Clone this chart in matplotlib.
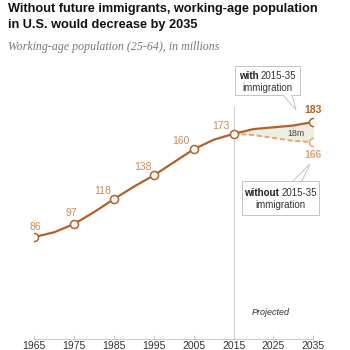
import numpy as np
import matplotlib
matplotlib.use("Agg")
from matplotlib import pyplot as plt
from matplotlib.patches import Polygon

# data (millions, working-age 25-64)
years = [1965, 1970, 1975, 1980, 1985, 1990, 1995, 2000, 2005, 2010, 2015, 2020, 2025, 2030, 2035]
with_imm = [86, 90, 97, 107, 118, 128.5, 138, 149, 160, 168, 173, 177, 178.5, 180, 183]
proj_years = [2015, 2020, 2025, 2030, 2035]
without_imm = [173, 172, 169.5, 167, 166]
marker_years = [1965, 1975, 1985, 1995, 2005, 2015, 2035]
marker_vals = [86, 97, 118, 138, 160, 173, 183]
xticks = [1965, 1975, 1985, 1995, 2005, 2015, 2025, 2035]

DARK = "#b1622b"
LIGHT = "#e5a36e"
LABEL = "#c98b5c"
W, H = 350, 350
PT = 0.72  # points per pixel at 100 dpi

plt.rcParams["font.family"] = ["Liberation Sans", "DejaVu Sans"]
fig = plt.figure(figsize=(3.5, 3.5), dpi=100)
ax = fig.add_axes([34.3 / W, 11 / H, 279 / W, 237.2 / H])
ax.set_xlim(1965, 2035)
ax.set_ylim(0, 200)

def px(x, y):
    return (x / W, 1 - y / H)

# projection shading and lines
with_proj = [with_imm[years.index(y)] for y in proj_years]
ax.fill_between(proj_years, without_imm, with_proj, color="#eeede2", lw=0, zorder=1)
ax.axvline(2015, ymin=0, ymax=195.5 / 200, color="#cfcfcf", lw=0.8, zorder=0)
ax.plot(years, with_imm, color=DARK, lw=1.6, zorder=3, solid_capstyle="round")
ax.plot(proj_years, without_imm, color=LIGHT, lw=1.4, ls=(0, (2.5, 1.5)), zorder=2)
ax.plot(marker_years, marker_vals, "o", ms=5.8, mfc="white", mec=DARK, mew=1.1, zorder=4)
ax.plot([2035], [without_imm[-1]], "o", ms=5.8, mfc="white", mec=LIGHT, mew=1.1, zorder=4)

# data labels (offsets in pixels)
offsets = {1965: (1, 10), 1975: (-3, 11), 1985: (-11, 8), 1995: (-11, 8), 2005: (-13, 8), 2015: (-4, 8)}
for yr, v in zip(marker_years[:-1], marker_vals[:-1]):
    dx, dy = offsets[yr]
    ha = "center" if yr < 2015 else "right"
    ax.annotate(str(v), (yr, v), xytext=(dx * PT, dy * PT), textcoords="offset points",
                ha=ha, va="center", fontsize=7.5, color=LABEL)
ax.annotate(str(marker_vals[-1]), (2035, marker_vals[-1]), xytext=(0, 12 * PT), textcoords="offset points",
            ha="center", va="center", fontsize=7.5, color=DARK, fontweight="bold")
ax.annotate(str(without_imm[-1]), (2035, without_imm[-1]), xytext=(0, -13 * PT), textcoords="offset points",
            ha="center", va="center", fontsize=7.5, color=LIGHT, fontweight="bold")
ax.text(2030.5, 173.5, "18m", fontsize=6.3, color="#444444", ha="center", va="center", zorder=5)

# callouts
def callout(box, tri):
    x0, y0, x1, y1 = box
    shadow = Polygon([px(x0 + 1, y0 + 1), px(x1 + 1, y0 + 1), px(x1 + 1, y1 + 1), px(x0 + 1, y1 + 1)],
                     closed=True, transform=fig.transFigure, fc="#ebebeb", ec="none", zorder=8)
    fig.patches.append(shadow)
    p = Polygon([px(*q) for q in tri], closed=True, transform=fig.transFigure,
                fc="white", ec="#c4c4c4", lw=0.7, zorder=9)
    fig.patches.append(p)
    r = Polygon([px(x0, y0), px(x1, y0), px(x1, y1), px(x0, y1)], closed=True,
                transform=fig.transFigure, fc="white", ec="#c4c4c4", lw=0.7, zorder=10)
    fig.patches.append(r)
    yy = tri[0][1]
    d = 1 if yy == y1 else -1
    cover = Polygon([px(tri[0][0] + 0.6, yy - d * 0.3), px(tri[1][0] - 0.6, yy - d * 0.3),
                     px(tri[1][0] - 0.6, yy + d), px(tri[0][0] + 0.6, yy + d)], closed=True,
                    transform=fig.transFigure, fc="white", ec="none", zorder=11)
    fig.patches.append(cover)

callout((235, 66, 300, 95), [(283, 95), (292, 95), (296, 110)])
callout((242, 181, 319, 215), [(293, 181), (302, 181), (310, 164)])

renderer = fig.canvas.get_renderer()

def callout_text(cx, y1, y2, bold, rest, size=7):
    tb = fig.text(0, 0, bold + " ", fontsize=size, fontweight="bold", color="#222222", va="center", zorder=12)
    tr = fig.text(0, 0, rest, fontsize=size, color="#333333", va="center", zorder=12)
    wb = tb.get_window_extent(renderer).width
    wr = tr.get_window_extent(renderer).width
    start = cx - (wb + wr) / 2
    tb.set_position(px(start, y1))
    tr.set_position(px(start + wb, y1))
    fig.text(*px(cx, y2), "immigration", fontsize=size, color="#333333", ha="center", va="center", zorder=12)

callout_text(267.5, 76, 88, "with", "2015-35")
callout_text(280.5, 193, 205, "without", "2015-35")

ax.text(2024.4, 22, "Projected", fontsize=6.5, style="italic", color="#333333", ha="center", va="center")

# axes styling
for s in ["top", "right", "left"]:
    ax.spines[s].set_visible(False)
ax.spines["bottom"].set_color("#cccccc")
ax.spines["bottom"].set_linewidth(0.8)
ax.set_yticks([])
ax.set_xticks(xticks)
ax.set_xticklabels([str(x) for x in xticks], fontsize=7.5, color="#333333")
ax.tick_params(axis="x", direction="in", length=3, color="#cccccc", pad=1.5)

# titles
fig.text(8 / W, 1 - 3 / H, "Without future immigrants, working-age population\nin U.S. would decrease by 2035",
         fontsize=9.2, fontweight="bold", color="#111111", ha="left", va="top", linespacing=1.45)
fig.text(8 / W, 1 - 47 / H, "Working-age population (25-64), in millions", fontsize=8.6,
         family=["Liberation Serif", "DejaVu Serif"], style="italic", color="#777777", ha="left", va="center")

fig.savefig("out.png", dpi=100)
